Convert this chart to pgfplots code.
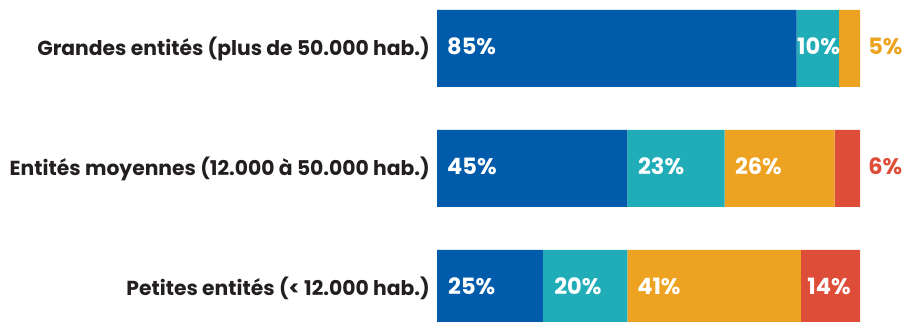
\documentclass[border=0pt]{standalone}
\usepackage{pgfplots}
\pgfplotsset{compat=1.18}
\usepackage{fontspec}
\setmainfont{Poppins}
\definecolor{cblue}{HTML}{005BAA}
\definecolor{cteal}{HTML}{20ADB8}
\definecolor{corange}{HTML}{EDA321}
\definecolor{cred}{HTML}{DE4D38}
\definecolor{ctext}{HTML}{231F20}
\tikzset{
  val/.style={font=\bfseries\fontsize{22.5}{24}\selectfont, text=white, anchor=west, inner sep=0pt, yshift=2pt},
  cat/.style={font=\bfseries\fontsize{20.3}{24}\selectfont, text=ctext, anchor=east, inner sep=0pt},
}
\begin{document}
\begin{tikzpicture}
\begin{axis}[
  scale only axis, width=904pt, height=321pt,
  xmin=-103.31, xmax=110.40, ymin=-0.404, ymax=2.271,
  y dir=reverse,
  axis line style={draw=none}, xtick=\empty, ytick=\empty,
  clip=true,
  xbar stacked, bar width=0.6417,
]
\addplot[fill=cblue, draw=none] coordinates {(85,0) (45,1) (25,2)};
\addplot[fill=cteal, draw=none] coordinates {(10,0) (23,1) (20,2)};
\addplot[fill=corange, draw=none] coordinates {(5,0) (26,1) (41,2)};
\addplot[fill=cred, draw=none] coordinates {(0,0) (6,1) (14,2)};
\coordinate (v1) at (axis cs:2.36,0);
\coordinate (v2) at (axis cs:85.1,0);
\coordinate (v3) at (axis cs:101.9,0);
\coordinate (v4) at (axis cs:2.36,1);
\coordinate (v5) at (axis cs:47.5,1);
\coordinate (v6) at (axis cs:70.4,1);
\coordinate (v7) at (axis cs:101.9,1);
\coordinate (v8) at (axis cs:2.6,2);
\coordinate (v9) at (axis cs:27.7,2);
\coordinate (v10) at (axis cs:47.3,2);
\coordinate (v11) at (axis cs:87.5,2);
\coordinate (c1) at (axis cs:-1.65,0);
\coordinate (c2) at (axis cs:-1.65,1);
\coordinate (c3) at (axis cs:-1.65,2);
\end{axis}
\node[val] at (v1) {85\%};
\node[val] at (v2) {10\%};
\node[val, text=corange] at (v3) {5\%};
\node[val] at (v4) {45\%};
\node[val] at (v5) {23\%};
\node[val] at (v6) {26\%};
\node[val, text=cred] at (v7) {6\%};
\node[val] at (v8) {25\%};
\node[val] at (v9) {20\%};
\node[val] at (v10) {41\%};
\node[val] at (v11) {14\%};
\node[cat] at (c1) {Grandes entités (plus de 50.000 hab.)};
\node[cat] at (c2) {Entités moyennes (12.000 à 50.000 hab.)};
\node[cat] at (c3) {Petites entités (< 12.000 hab.)};
\end{tikzpicture}
\end{document}
